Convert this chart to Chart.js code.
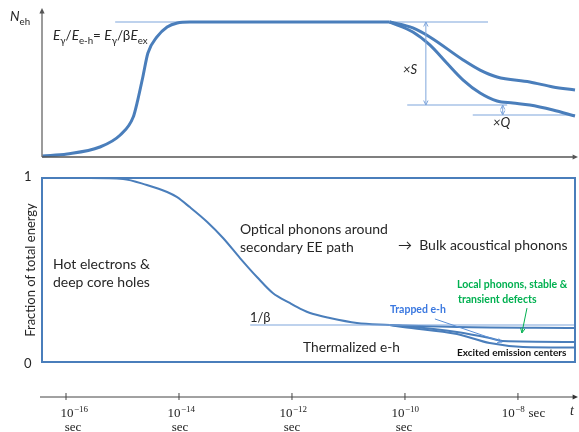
<!DOCTYPE html>
<html>
<head>
<meta charset="utf-8">
<script src="https://cdn.jsdelivr.net/npm/chart.js@4"></script>
<style>
html, body { margin: 0; padding: 0; background: #fff; }
</style>
</head>
<body>
<canvas id="c" width="579" height="432"></canvas>
<script>
// x values are log10(t / sec)
const tickVals = [-16, -14, -12, -10, -8];
const tickExps = ['−16', '−14', '−12', '−10', '−8'];
const tickUnits = ['sec', 'sec', 'sec', 'sec', ' sec'];   // last one sits on the same line
const tickShift = [8, 2, 1, 0, 5];

// top panel: N_eh, plateau = 1
const riseT = [-16.42, -15.98, -15.40, -15.04, -14.81, -14.73, -14.64, -14.55, -14.39, -14.21, -14.03, -13.81, -10.27];
const riseN = [0.007, 0.022, 0.074, 0.163, 0.296, 0.422, 0.593, 0.770, 0.889, 0.963, 0.993, 1.0, 1.0];
const upperT = [-10.27, -9.86, -9.56, -8.97, -8.67, -8.37, -7.79, -7.38, -6.99];
const upperN = [1.0, 0.956, 0.889, 0.719, 0.644, 0.593, 0.556, 0.519, 0.496];
const lowerT = [-10.27, -9.86, -9.56, -9.26, -8.97, -8.67, -8.37, -8.09, -7.79, -7.38, -6.99];
const lowerN = [1.0, 0.926, 0.830, 0.696, 0.570, 0.474, 0.415, 0.400, 0.385, 0.348, 0.304];
const plateauT = [-15.13, -8.53], plateauN = [1.0, 1.0];
const sLineT = [-9.96, -8.19], sLineN = [0.385, 0.385];
const qLineT = [-8.80, -6.99], qLineN = [0.311, 0.311];
const sArrow = [-9.63, 1.0, 0.385];   // t, from, to
const qArrow = [-8.27, 0.385, 0.311];

// bottom panel: fraction of total energy
const fracT = [-16.42, -15.58, -14.99, -14.57, -14.21, -14.04, -13.81, -13.50, -13.22, -12.92, -12.62, -12.34, -12.04, -11.81, -11.68, -11.33, -10.85, -10.27];
const fracF = [1.0, 1.0, 0.995, 0.962, 0.924, 0.897, 0.842, 0.761, 0.674, 0.565, 0.462, 0.375, 0.321, 0.283, 0.266, 0.239, 0.212, 0.201];
const localT = [-10.27, -9.08, -6.99], localF = [0.201, 0.190, 0.185];
const trapT = [-10.27, -10.04, -9.08, -8.50, -8.27, -6.99], trapF = [0.201, 0.196, 0.163, 0.130, 0.114, 0.109];
const emitT = [-10.27, -10.04, -9.08, -8.50, -7.91, -6.99], emitF = [0.201, 0.190, 0.152, 0.103, 0.082, 0.079];
const betaT = [-12.74, -6.99], betaF = [0.201, 0.201];
const trapPointer = [-9.47, 0.234, -8.28, 0.109];
const greenPointer = [-7.84, 0.293, -7.93, 0.158];

const BLUE = '#4a7ebb';
const THIN = '#7fa6dc';
const TXT = '#262626';

const pts = (xs, ys) => xs.map((x, i) => ({ x: x, y: ys[i] }));
function line(xs, ys, axis, color, width, smooth) {
    return {
        data: pts(xs, ys), yAxisID: axis, borderColor: color, borderWidth: width,
        pointRadius: 0, fill: false, clip: false,
        cubicInterpolationMode: smooth ? 'monotone' : 'default', tension: 0
    };
}

function head(ctx, x, y, ang, len, filled) {
    const a1 = ang + Math.PI - 0.45, a2 = ang + Math.PI + 0.45;
    ctx.beginPath();
    ctx.moveTo(x + len * Math.cos(a1), y + len * Math.sin(a1));
    ctx.lineTo(x, y);
    ctx.lineTo(x + len * Math.cos(a2), y + len * Math.sin(a2));
    if (filled) { ctx.closePath(); ctx.fill(); } else ctx.stroke();
}

function rich(ctx, x, y, parts, size) {
    ctx.textBaseline = 'alphabetic';
    ctx.textAlign = 'left';
    parts.forEach(p => {
        const sub = p[1] === 's';
        const fs = sub ? size * 0.72 : size;
        ctx.font = (p[1] === 'i' ? 'italic ' : '') + fs + 'px Lato';
        ctx.fillText(p[0], x, y + (sub ? size * 0.28 : 0));
        x += ctx.measureText(p[0]).width;
    });
}

function label(ctx, text, x, y, font, color, maxW) {
    ctx.font = font;
    ctx.fillStyle = color;
    ctx.textAlign = 'left';
    ctx.textBaseline = 'middle';
    if (maxW) ctx.fillText(text, x, y, maxW); else ctx.fillText(text, x, y);
}

const decor = {
    id: 'decor',
    afterDatasetsDraw(chart) {
        const ctx = chart.ctx;
        const xs = chart.scales.x, yN = chart.scales.yN, yF = chart.scales.yF;
        const X = v => xs.getPixelForValue(v);
        const left = xs.left, right = xs.right;
        ctx.save();

        // top panel axes
        const y0 = yN.getPixelForValue(0);
        ctx.strokeStyle = '#7a7a7a'; ctx.fillStyle = '#555'; ctx.lineWidth = 1.5;
        ctx.beginPath(); ctx.moveTo(left, y0); ctx.lineTo(left, yN.top + 2); ctx.stroke();
        head(ctx, left, yN.top, -Math.PI / 2, 6, true);
        ctx.strokeStyle = '#555';
        ctx.beginPath(); ctx.moveTo(left, y0); ctx.lineTo(right + 1, y0); ctx.stroke();
        head(ctx, right + 3, y0, 0, 6, true);

        // S and Q double arrows
        ctx.strokeStyle = THIN; ctx.lineWidth = 1;
        [sArrow, qArrow].forEach(a => {
            const x = X(a[0]), ya = yN.getPixelForValue(a[1]), yb = yN.getPixelForValue(a[2]);
            ctx.beginPath(); ctx.moveTo(x, ya); ctx.lineTo(x, yb); ctx.stroke();
            const l = Math.min(5, Math.abs(yb - ya) / 2);
            head(ctx, x, ya, -Math.PI / 2, l, false);
            head(ctx, x, yb, Math.PI / 2, l, false);
        });

        // bottom panel frame
        const fTop = yF.getPixelForValue(1), fBot = yF.getPixelForValue(0);
        ctx.strokeStyle = BLUE; ctx.lineWidth = 2;
        ctx.strokeRect(left, fTop, right - left, fBot - fTop);

        // pointers
        ctx.lineWidth = 1;
        ctx.strokeStyle = '#5b8fd6';
        let p = trapPointer;
        let ax = X(p[0]), ay = yF.getPixelForValue(p[1]), bx = X(p[2]), by = yF.getPixelForValue(p[3]);
        ctx.beginPath(); ctx.moveTo(ax, ay); ctx.lineTo(bx, by); ctx.stroke();
        head(ctx, bx, by, Math.atan2(by - ay, bx - ax), 5, false);
        ctx.strokeStyle = '#00b050';
        p = greenPointer;
        ax = X(p[0]); ay = yF.getPixelForValue(p[1]); bx = X(p[2]); by = yF.getPixelForValue(p[3]);
        ctx.beginPath(); ctx.moveTo(ax, ay); ctx.lineTo(bx, by); ctx.stroke();
        head(ctx, bx, by, Math.atan2(by - ay, bx - ax), 5, false);

        // time axis with its tick labels
        const yt = xs.top;
        ctx.strokeStyle = '#444'; ctx.fillStyle = '#333'; ctx.lineWidth = 1;
        ctx.beginPath(); ctx.moveTo(left - 2, yt); ctx.lineTo(right + 1, yt); ctx.stroke();
        head(ctx, right + 3, yt, 0, 6, true);
        ctx.fillStyle = '#222';
        ctx.textBaseline = 'alphabetic';
        tickVals.forEach((v, i) => {
            const x = X(v);
            ctx.beginPath(); ctx.moveTo(x, yt - 4); ctx.lineTo(x, yt + 3); ctx.stroke();
            const big = '13px "Liberation Serif"', small = '9px "Liberation Serif"';
            ctx.font = big; const w1 = ctx.measureText('10').width;
            ctx.font = small; const w2 = ctx.measureText(tickExps[i]).width;
            const inline = tickUnits[i].startsWith(' ');
            ctx.font = big; const w3 = inline ? ctx.measureText(tickUnits[i]).width : 0;
            let sx = x + tickShift[i] - (w1 + w2 + w3) / 2;
            ctx.textAlign = 'left';
            ctx.font = big; ctx.fillText('10', sx, yt + 20);
            ctx.font = small; ctx.fillText(tickExps[i], sx + w1 + 0.5, yt + 14.5);
            ctx.font = big;
            if (inline) ctx.fillText(tickUnits[i], sx + w1 + w2 + 1, yt + 20);
            else { ctx.textAlign = 'center'; ctx.fillText(tickUnits[i], x + tickShift[i] - 1, yt + 34); }
        });

        // texts
        ctx.fillStyle = TXT;
        rich(ctx, 10, 21, [['N', 'i'], ['eh', 's']], 13.5);
        rich(ctx, 53, 40, [['E', 'i'], ['γ', 's'], ['/', ''], ['E', 'i'], ['e-h', 's'], ['= ', ''], ['E', 'i'], ['γ', 's'], ['/β', ''], ['E', 'i'], ['ex', 's']], 13.5);
        label(ctx, '×S', 403, 70, 'italic 13px Lato', TXT);
        label(ctx, '×Q', 493, 123, 'italic 13px Lato', TXT);

        label(ctx, '1', 24, 177, '13px Lato', TXT);
        label(ctx, '0', 24, 364, '13px Lato', TXT);
        ctx.save();
        ctx.translate(31, 270); ctx.rotate(-Math.PI / 2);
        ctx.font = '13px Lato'; ctx.textAlign = 'center'; ctx.textBaseline = 'middle'; ctx.fillStyle = TXT;
        ctx.fillText('Fraction of total energy', 0, 0, 147);
        ctx.restore();

        label(ctx, 'Hot electrons &', 53, 264, '14px Lato', TXT, 97);
        label(ctx, 'deep core holes', 53, 282, '14px Lato', TXT, 97);
        label(ctx, 'Optical phonons around', 240, 229, '14px Lato', TXT, 148);
        label(ctx, 'secondary EE path', 240, 247, '14px Lato', TXT, 118);
        label(ctx, '→  Bulk acoustical phonons', 398, 245, '14px Lato', TXT, 174);
        label(ctx, 'Local phonons, stable &', 457, 285, 'bold 10.5px Lato', '#00b050', 111);
        label(ctx, 'transient defects', 458, 300, 'bold 10.5px Lato', '#00b050', 82);
        label(ctx, 'Trapped e-h', 390, 310, 'bold 10.5px Lato', '#3a78e0', 57);
        label(ctx, 'Thermalized e-h', 303, 347, '14px Lato', TXT, 97);
        label(ctx, '1/β', 250, 318, '13px Lato', TXT);
        label(ctx, 'Excited emission centers', 457, 353, 'bold 10px Lato', '#111', 117);
        label(ctx, 't', 570, 411, 'italic 14px "Liberation Serif"', TXT);
        ctx.restore();
    }
};

new Chart(document.getElementById('c'), {
    type: 'line',
    data: {
        datasets: [
            line(riseT, riseN, 'yN', BLUE, 3, true),
            line(upperT, upperN, 'yN', BLUE, 3, true),
            line(lowerT, lowerN, 'yN', BLUE, 3, true),
            line(plateauT, plateauN, 'yN', THIN, 1.2, false),
            line(sLineT, sLineN, 'yN', THIN, 1.2, false),
            line(qLineT, qLineN, 'yN', THIN, 1.2, false),
            line(betaT, betaF, 'yF', THIN, 1.2, false),
            line(fracT, fracF, 'yF', BLUE, 2, true),
            line(localT, localF, 'yF', BLUE, 2, true),
            line(trapT, trapF, 'yF', BLUE, 2, true),
            line(emitT, emitF, 'yF', BLUE, 2, true)
        ]
    },
    options: {
        responsive: false,
        animation: false,
        events: [],
        layout: { padding: { left: 42, right: 4, top: 8, bottom: 0 } },
        plugins: { legend: { display: false }, tooltip: { enabled: false } },
        scales: {
            x: {
                type: 'linear',
                min: -16.425,
                max: -6.99,
                afterFit: s => { s.height = 35; },
                afterBuildTicks: s => { s.ticks = tickVals.map(v => ({ value: v })); },
                grid: { display: false },
                border: { display: false },
                ticks: { display: false }
            },
            yN: { type: 'linear', display: false, min: -1.7778, max: 1.1037 },
            yF: { type: 'linear', display: false, min: -0.1902, max: 1.9239 }
        }
    },
    plugins: [decor]
});
</script>
</body>
</html>
